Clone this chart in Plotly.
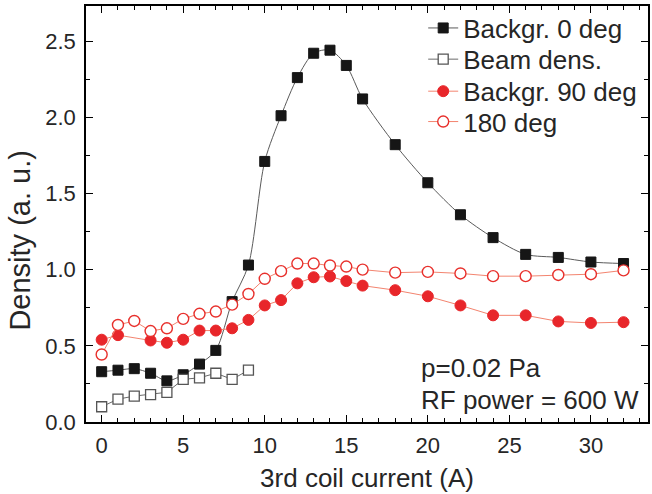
import plotly.graph_objects as go

# Data
x_bg0 = [0, 1, 2, 3, 4, 5, 6, 7, 8, 9, 10, 11, 12, 13, 14, 15, 16, 18, 20, 22, 24, 26, 28, 30, 32]
y_bg0 = [0.33, 0.34, 0.35, 0.32, 0.27, 0.31, 0.38, 0.47, 0.79, 1.03, 1.71, 2.01, 2.26, 2.42, 2.44, 2.34,
         2.12, 1.82, 1.57, 1.36, 1.21, 1.10, 1.08, 1.05, 1.04]

x_beam = [0, 1, 2, 3, 4, 5, 6, 7, 8, 9]
y_beam = [0.10, 0.15, 0.17, 0.18, 0.195, 0.28, 0.29, 0.32, 0.28, 0.34]

x_bg90 = [0, 1, 3, 4, 5, 6, 7, 8, 9, 10, 11, 12, 13, 14, 15, 16, 18, 20, 22, 24, 26, 28, 30, 32]
y_bg90 = [0.54, 0.57, 0.535, 0.52, 0.54, 0.60, 0.60, 0.615, 0.67, 0.765, 0.80, 0.91, 0.95, 0.955, 0.925,
          0.895, 0.865, 0.825, 0.765, 0.70, 0.70, 0.66, 0.65, 0.655]

x_180 = [0, 1, 2, 3, 4, 5, 6, 7, 8, 9, 10, 11, 12, 13, 14, 15, 16, 18, 20, 22, 24, 26, 28, 30, 32]
y_180 = [0.443, 0.637, 0.663, 0.597, 0.615, 0.677, 0.71, 0.725, 0.77, 0.84, 0.94, 0.99, 1.04, 1.04, 1.027,
         1.02, 1.0, 0.98, 0.985, 0.975, 0.957, 0.957, 0.965, 0.97, 0.995]

x_ticks = [0, 5, 10, 15, 20, 25, 30]
y_ticks = [0.0, 0.5, 1.0, 1.5, 2.0, 2.5]

FONT = "Liberation Sans, Arial, sans-serif"
TXT = "#262626"

fig = go.Figure()
fig.add_trace(go.Scatter(
    x=x_bg0, y=y_bg0, name="Backgr. 0 deg", mode="lines+markers", legend="legend",
    line=dict(color="#5a5a5a", width=1, shape="spline", smoothing=0.8),
    marker=dict(symbol="square", size=10, color="#161616", line=dict(color="#161616", width=1))))
fig.add_trace(go.Scatter(
    x=x_beam, y=y_beam, name="Beam dens.", mode="lines+markers", legend="legend2",
    line=dict(color="#6a6a6a", width=1),
    marker=dict(symbol="square", size=10, color="white", line=dict(color="#555555", width=1.3))))
fig.add_trace(go.Scatter(
    x=x_bg90, y=y_bg90, name="Backgr. 90 deg", mode="lines+markers", legend="legend3",
    line=dict(color="#f3846f", width=1),
    marker=dict(symbol="circle", size=11, color="#e8262a", line=dict(color="#e8262a", width=1))))
fig.add_trace(go.Scatter(
    x=x_180, y=y_180, name="180 deg", mode="lines+markers", legend="legend4",
    line=dict(color="#f3846f", width=1),
    marker=dict(symbol="circle", size=11, color="white", line=dict(color="#e8302c", width=1.4))))

axis_common = dict(
    showline=True, linecolor="black", linewidth=1.5, mirror="allticks",
    ticks="inside", ticklen=7, tickwidth=1.3, tickcolor="black",
    showgrid=False, zeroline=False, automargin=False,
    tickfont=dict(family=FONT, size=22, color=TXT),
)

fig.update_xaxes(
    range=[-0.96, 33.5], tickvals=x_ticks, ticktext=[str(v) for v in x_ticks],
    ticklabelstandoff=3,
    minor=dict(dtick=1, ticks="inside", ticklen=4, tickwidth=1.2, tickcolor="black"),
    title=dict(text="3rd coil current (A)", font=dict(family=FONT, size=26, color=TXT), standoff=12),
    **axis_common)
fig.update_yaxes(
    range=[0, 2.73], tickvals=y_ticks, ticktext=[f"{v:.1f}" for v in y_ticks],
    ticklabelstandoff=4,
    minor=dict(dtick=0.25, ticks="inside", ticklen=4, tickwidth=1.2, tickcolor="black"),
    **axis_common)

# y-axis title
fig.add_annotation(xref="paper", yref="paper", x=(20 - 86) / 562, y=0.436, xanchor="center",
                   yanchor="middle", text="Density (a. u.)", textangle=-90, showarrow=False,
                   font=dict(family=FONT, size=29, color=TXT))

fig.add_annotation(xref="paper", yref="paper", x=0.5925, y=0.131, xanchor="left", yanchor="middle",
                   text="p=0.02 Pa", showarrow=False, align="left",
                   font=dict(family=FONT, size=26, color=TXT))
fig.add_annotation(xref="paper", yref="paper", x=0.5925, y=0.054, xanchor="left", yanchor="middle",
                   text="RF power = 600 W", showarrow=False, align="left",
                   font=dict(family=FONT, size=26, color=TXT))

leg_common = dict(x=0.6, xanchor="left", yanchor="middle", bgcolor="rgba(0,0,0,0)",
                  font=dict(family=FONT, size=26, color=TXT))

fig.update_layout(
    width=652, height=494,
    margin=dict(l=86, r=4, t=6, b=71.5),
    paper_bgcolor="white", plot_bgcolor="white",
    showlegend=True,
    legend=dict(y=0.947, **leg_common),
    legend2=dict(y=0.872, **leg_common),
    legend3=dict(y=0.795, **leg_common),
    legend4=dict(y=0.722, **leg_common),
)

fig.write_html("out.html", config={"displayModeBar": False},
               post_script="document.body.style.margin='0';")
